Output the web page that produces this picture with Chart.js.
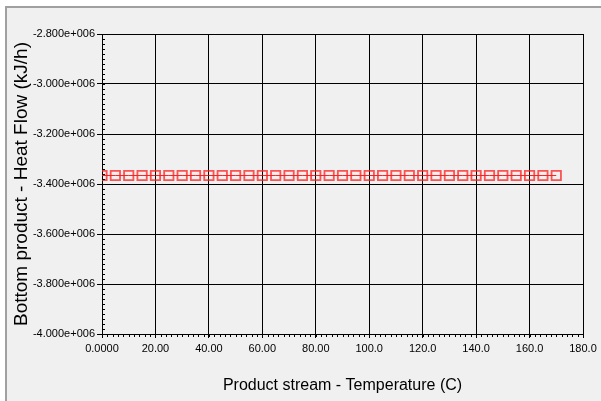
<!DOCTYPE html>
<html><head><meta charset="utf-8">
<script src="https://cdn.jsdelivr.net/npm/chart.js@4/dist/chart.umd.min.js"></script>
<style>html,body{margin:0;padding:0;background:#fff;overflow:hidden}#c{display:block}</style>
</head><body>
<canvas id="c" width="601" height="401" style="width:601px;height:401px"></canvas>
<script>
// Product stream temperature (C)
const temperatures = [0,5,10,15,20,25,30,35,40,45,50,55,60,65,70,75,80,85,90,95,100,105,110,115,120,125,130,135,140,145,150,155,160,165,170];
// Bottom product heat flow (kJ/h)
const heatFlow = [-3366000,-3366000,-3366000,-3366000,-3366000,-3366000,-3366000,-3366000,-3366000,-3366000,-3366000,-3366000,-3366000,-3366000,-3366000,-3366000,-3366000,-3366000,-3366000,-3366000,-3366000,-3366000,-3366000,-3366000,-3366000,-3366000,-3366000,-3366000,-3366000,-3366000,-3366000,-3366000,-3366000,-3366000,-3366000];
const xTickValues = [0,20,40,60,80,100,120,140,160,180];
const xTickLabels = ["0.0000","20.00","40.00","60.00","80.00","100.0","120.0","140.0","160.0","180.0"];
const yTickValues = [-4000000,-3800000,-3600000,-3400000,-3200000,-3000000,-2800000];
const yTickLabels = ["-4.000e+006","-3.800e+006","-3.600e+006","-3.400e+006","-3.200e+006","-3.000e+006","-2.800e+006"];
const xTitle = "Product stream - Temperature (C)";
const yTitle = "Bottom product - Heat Flow (kJ/h)";

const FONT = "'Liberation Sans', Arial, sans-serif";

const framePlugin = {
  id: 'frame',
  beforeDraw(chart) {
    const ctx = chart.ctx;
    ctx.save();
    ctx.fillStyle = '#ffffff';
    ctx.fillRect(0, 0, chart.width, chart.height);
    ctx.fillStyle = '#f0f0f0';
    ctx.fillRect(6, 8, chart.width - 6, chart.height - 8);
    ctx.strokeStyle = '#a0a0a0';
    ctx.lineWidth = 2;
    ctx.beginPath();
    ctx.moveTo(6, chart.height);
    ctx.lineTo(6, 7);
    ctx.lineTo(chart.width, 7);
    ctx.stroke();
    ctx.restore();
  }
};

const minorTicksPlugin = {
  id: 'minorTicks',
  afterDraw(chart) {
    const ctx = chart.ctx;
    const xs = chart.scales.x, ys = chart.scales.y;
    const ca = chart.chartArea;
    ctx.save();
    ctx.strokeStyle = '#000';
    ctx.lineWidth = 1;
    ctx.beginPath();
    const yStep = (ys.max - ys.min) / 60;
    for (let i = 0; i <= 60; i++) {
      const v = ys.min + i * yStep;
      const py = Math.round(ys.getPixelForValue(v)) + 0.5;
      ctx.moveTo(ca.left, py);
      ctx.lineTo(ca.left + 3, py);
    }
    const xStep = (xs.max - xs.min) / 90;
    for (let i = 0; i <= 90; i++) {
      const v = xs.min + i * xStep;
      const px = Math.round(xs.getPixelForValue(v)) + 0.5;
      ctx.moveTo(px, ca.bottom);
      ctx.lineTo(px, ca.bottom + 3);
    }
    ctx.stroke();
    ctx.restore();
  }
};

new Chart(document.getElementById('c'), {
  type: 'line',
  data: {
    datasets: [{
      data: temperatures.map((t, i) => ({x: t, y: heatFlow[i]})),
      borderColor: 'rgba(255,0,0,0.85)',
      borderWidth: 1,
      pointStyle: 'rect',
      pointRadius: 6.6,
      pointHoverRadius: 6.6,
      pointBorderColor: 'rgba(255,30,30,0.75)',
      pointBorderWidth: 1.8,
      pointBackgroundColor: 'rgba(0,0,0,0)',
      fill: false,
      tension: 0
    }]
  },
  options: {
    responsive: false,
    animation: false,
    events: [],
    layout: { padding: { left: 0, right: 18, top: 34, bottom: 0 } },
    plugins: { legend: { display: false }, tooltip: { enabled: false } },
    scales: {
      x: {
        type: 'linear',
        min: 0, max: 180,
        afterBuildTicks(scale) { scale.ticks = xTickValues.map(v => ({value: v})); },
        afterFit(scale) { scale.height = 67; },
        border: { color: '#000', width: 1 },
        grid: { color: '#000', lineWidth: 1, tickLength: 4, drawTicks: true },
        ticks: {
          color: '#000', font: { family: FONT, size: 11 }, padding: 4,
          maxRotation: 0, autoSkip: false,
          callback: (v) => xTickLabels[xTickValues.indexOf(v)]
        },
        title: {
          display: true, text: xTitle, color: '#000',
          font: { family: FONT, size: 16 }, padding: { top: 0, bottom: 6 }
        }
      },
      y: {
        type: 'linear',
        min: -4000000, max: -2800000,
        afterBuildTicks(scale) { scale.ticks = yTickValues.map(v => ({value: v})); },
        afterFit(scale) { scale.width = 102; },
        border: { color: '#000', width: 1 },
        grid: { color: '#000', lineWidth: 1, tickLength: 5, drawTicks: true },
        ticks: {
          color: '#000', font: { family: FONT, size: 11 }, padding: 2,
          autoSkip: false,
          callback: (v) => yTickLabels[yTickValues.indexOf(v)]
        },
        title: {
          display: true, text: yTitle, color: '#000',
          font: { family: FONT, size: 19 }, padding: { top: 10, bottom: 0 }
        }
      }
    }
  },
  plugins: [framePlugin, minorTicksPlugin]
});
</script>
</body></html>
